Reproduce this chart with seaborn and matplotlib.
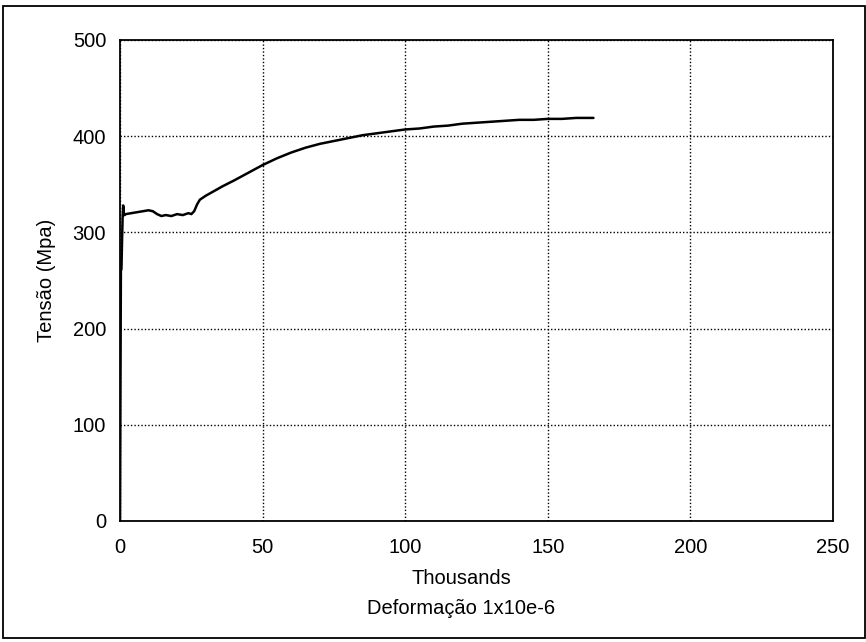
import matplotlib
matplotlib.use("Agg")
import matplotlib.pyplot as plt
import seaborn as sns
import pandas as pd
from matplotlib.patches import Rectangle

# Strain (thousands of 1e-6) and stress (MPa)
strain = [0.0, 0.1, 0.2, 0.3, 0.5, 0.7, 0.9, 1.1, 1.2, 1.3, 1.6, 2.0, 4.0, 6.0,
          8.0, 10.0, 11.5, 13.0, 14.5, 16.0, 18.0, 20.0, 22.0, 24.0, 25.0,
          26.0, 27.0, 28.0, 30.0, 33.0, 36.0, 40.0, 45.0, 50.0, 55.0, 60.0,
          65.0, 70.0, 75.0, 80.0, 85.0, 90.0, 95.0, 100.0, 105.0, 110.0,
          115.0, 120.0, 125.0, 130.0, 135.0, 140.0, 145.0, 150.0, 155.0,
          160.0, 166.0]
stress = [0.0, 100.0, 180.0, 260.0, 262.0, 290.0, 315.0, 328.0, 326.0, 318.0,
          318.0, 319.0, 320.0, 321.0, 322.0, 323.0, 322.0, 319.0, 317.0, 318.0,
          317.0, 319.0, 318.0, 320.0, 319.0, 322.0, 329.0, 334.0, 338.0, 343.0,
          348.0, 354.0, 362.0, 370.0, 377.0, 383.0, 388.0, 392.0, 395.0,
          398.0, 401.0, 403.0, 405.0, 407.0, 408.0, 410.0, 411.0, 413.0, 414.0,
          415.0, 416.0, 417.0, 417.0, 418.0, 418.0, 419.0, 419.0]

x_ticks = [0, 50, 100, 150, 200, 250]
y_ticks = [0, 100, 200, 300, 400, 500]

df = pd.DataFrame({"strain": strain, "stress": stress})

sns.set_theme(style="white")
plt.rcParams["font.family"] = ["Liberation Sans", "DejaVu Sans"]

FS = 14.5
fig = plt.figure(figsize=(8.66, 6.42), dpi=100)
ax = fig.add_axes([0.1386, 0.1885, 0.8233, 0.7492])

sns.lineplot(data=df, x="strain", y="stress", sort=False, color="black",
             linewidth=1.8, ax=ax)

ax.set_xlim(0, 250)
ax.set_ylim(0, 500)
ax.set_xticks(x_ticks)
ax.set_yticks(y_ticks)
ax.tick_params(axis="x", length=0, labelsize=FS, colors="black", pad=12)
ax.tick_params(axis="y", length=0, labelsize=FS, colors="black", pad=10)
ax.grid(True, color="black", linestyle=(0, (1, 1.5)), linewidth=1.0)
for s in ax.spines.values():
    s.set_visible(True)
    s.set_color("black")
    s.set_linewidth(1.3)

ax.set_xlabel("")
ax.set_ylabel("Tensão (Mpa)", fontsize=FS, color="black", labelpad=12)
fig.text(461 / 866, 1 - 579 / 642, "Thousands", ha="center", va="center",
         fontsize=FS, color="black")
fig.text(461 / 866, 1 - 608 / 642, "Deformação 1x10e-6", ha="center", va="center",
         fontsize=FS, color="black")

fig.patches.append(Rectangle((0.004, 0.007), 0.995, 0.984, transform=fig.transFigure,
                             fill=False, edgecolor="black", linewidth=1.3))

fig.savefig("out.png", dpi=100)
